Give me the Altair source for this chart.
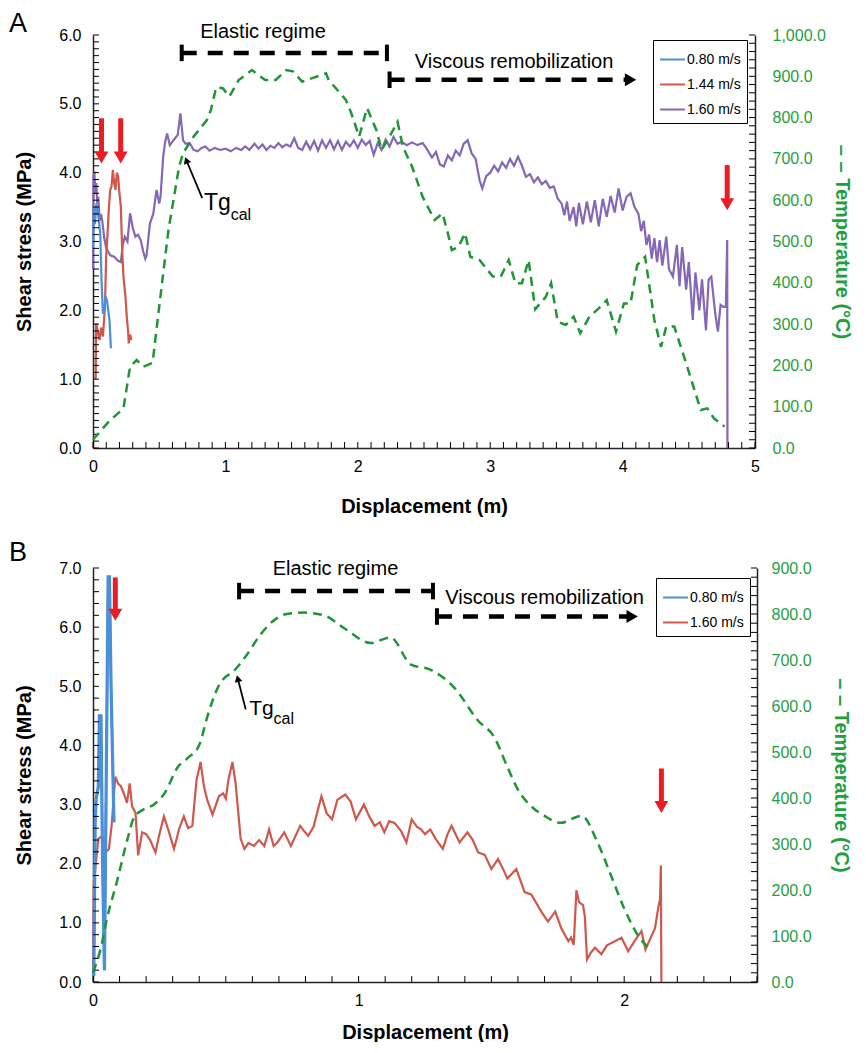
import altair as alt
import numpy as np
import pandas as pd

FONT = "Liberation Sans"
GREEN_LINE = "#1e9636"
GREEN_TEXT = "#1fa040"
ARROW_RED = "#ec1c24"

# ---------------- Panel A data ----------------
A_SERIES = ["0.80 m/s", "1.44 m/s", "1.60 m/s"]
A_COLORS = ["#4a8fd8", "#d0574c", "#8467b5"]

A_BLUE_X = [0.000, 0.008, 0.015, 0.025, 0.035, 0.045, 0.055, 0.065, 0.075, 0.085, 0.095, 0.105, 0.115, 0.125, 0.135]
A_BLUE_Y = [2.90, 3.50, 3.25, 3.55, 3.45, 3.30, 3.10, 2.40, 1.95, 2.00, 2.20, 2.15, 2.00, 1.85, 1.45]

A_RED_X = [0.020, 0.024, 0.035, 0.050, 0.060, 0.075, 0.090, 0.100, 0.110, 0.120, 0.130, 0.140, 0.150,
           0.160, 0.170, 0.180, 0.190, 0.200, 0.210, 0.220, 0.230, 0.245, 0.255, 0.265, 0.270, 0.280, 0.290]
A_RED_Y = [1.00, 1.81, 1.70, 1.57, 1.75, 1.62, 2.05, 2.80, 3.12, 3.50, 3.75, 3.80, 4.04,
           3.85, 3.75, 4.00, 3.94, 3.70, 3.51, 2.90, 2.49, 2.20, 1.91, 1.70, 1.52, 1.65, 1.57]

A_PURPLE_X = [0.000, 0.004, 0.010, 0.018, 0.025, 0.032, 0.040, 0.050, 0.060, 0.070, 0.085, 0.100, 0.115, 0.130,
              0.160, 0.190, 0.210, 0.225, 0.240, 0.260, 0.280, 0.300, 0.320, 0.340, 0.360, 0.380, 0.395, 0.405,
              0.430, 0.455, 0.480, 0.500, 0.510, 0.530, 0.545, 0.560, 0.580, 0.600, 0.620, 0.640, 0.660, 0.680,
              0.700, 0.730, 0.760, 0.790,
              0.82, 0.85, 0.88, 0.92, 0.96, 1.00, 1.04, 1.08, 1.12, 1.15, 1.18, 1.22, 1.25, 1.28, 1.31, 1.34,
              1.37, 1.40, 1.43, 1.46, 1.49, 1.52, 1.55, 1.58, 1.61, 1.64, 1.67, 1.70, 1.73, 1.76, 1.79, 1.82,
              1.85, 1.88, 1.91, 1.94, 1.97, 2.00, 2.03, 2.06, 2.09, 2.12, 2.15, 2.18, 2.21, 2.24, 2.27, 2.30,
              2.33, 2.37, 2.41, 2.45, 2.49, 2.52, 2.56, 2.59, 2.62, 2.65, 2.68, 2.71, 2.74, 2.77, 2.80, 2.83,
              2.86, 2.89, 2.92, 2.94, 2.97, 3.00, 3.03, 3.06, 3.09, 3.12, 3.15, 3.18, 3.21, 3.24, 3.27, 3.30,
              3.33, 3.36, 3.39, 3.42, 3.45, 3.48, 3.51, 3.54, 3.56, 3.58, 3.60, 3.63, 3.65, 3.67, 3.70, 3.73,
              3.76, 3.79, 3.82, 3.85, 3.88, 3.91, 3.94, 3.97, 4.00, 4.03, 4.06, 4.09, 4.12, 4.14, 4.16, 4.18,
              4.20, 4.22, 4.24, 4.26, 4.28, 4.30, 4.33, 4.35, 4.38, 4.41, 4.43, 4.45, 4.48, 4.50, 4.53, 4.55,
              4.58, 4.60, 4.63, 4.65, 4.67, 4.70, 4.72, 4.74, 4.76, 4.78, 4.790, 4.792]
A_PURPLE_Y = [2.60, 3.95, 4.02, 3.70, 3.85, 3.55, 3.65, 3.30, 3.40, 3.30, 3.05, 2.90, 2.85, 2.80,
              2.78, 2.72, 2.70, 2.95, 3.07, 3.00, 3.41, 3.20, 3.07, 3.10, 3.02, 2.85, 2.75, 2.80,
              3.26, 3.40, 3.75, 3.55, 3.65, 4.23, 4.45, 4.57, 4.40, 4.45, 4.50, 4.55, 4.86, 4.47,
              4.42, 4.43, 4.33, 4.31,
              4.36, 4.38, 4.32, 4.36, 4.33, 4.35, 4.31, 4.36, 4.33, 4.38, 4.33, 4.42, 4.35, 4.41, 4.33, 4.39,
              4.36, 4.43, 4.37, 4.41, 4.38, 4.50, 4.36, 4.33, 4.45, 4.34, 4.46, 4.32, 4.47, 4.36, 4.47, 4.34,
              4.46, 4.33, 4.45, 4.38, 4.47, 4.36, 4.48, 4.40, 4.46, 4.26, 4.43, 4.33, 4.48, 4.38, 4.52, 4.42,
              4.45, 4.40, 4.44, 4.40, 4.43, 4.35, 4.22, 4.30, 4.12, 4.09, 4.25, 4.18, 4.32, 4.25, 4.42, 4.47,
              4.28, 4.20, 3.89, 3.77, 3.95, 4.00, 4.10, 4.02, 4.15, 4.07, 4.20, 4.10, 4.23, 4.10, 3.94, 3.98,
              3.86, 3.93, 3.83, 3.88, 3.78, 3.80, 3.62, 3.55, 3.38, 3.58, 3.30, 3.50, 3.22, 3.56, 3.25, 3.58,
              3.28, 3.60, 3.22, 3.62, 3.36, 3.66, 3.42, 3.77, 3.45, 3.65, 3.70, 3.50, 3.40, 3.15, 3.30, 2.95,
              3.10, 2.75, 3.05, 2.70, 3.02, 2.65, 3.07, 2.60, 2.49, 2.95, 2.35, 2.92, 2.30, 2.70, 1.86, 2.55,
              2.00, 2.45, 1.71, 2.45, 2.49, 1.95, 1.69, 2.08, 2.05, 2.05, 3.02, 0.00]

A_TEMP_X = [0.00, 0.12, 0.23, 0.28, 0.33, 0.38, 0.45, 0.50, 0.57, 0.65, 0.68, 0.76, 0.86, 0.89, 0.93, 0.98,
            1.03, 1.10, 1.20, 1.30, 1.38, 1.46, 1.51, 1.58, 1.65, 1.76, 1.78, 1.91, 1.95, 2.01, 2.07, 2.14,
            2.18, 2.24, 2.30, 2.34, 2.41, 2.49, 2.58, 2.64, 2.68, 2.71, 2.76, 2.81, 2.85, 2.92, 3.02, 3.08,
            3.14, 3.19, 3.24, 3.29, 3.34, 3.42, 3.46, 3.51, 3.57, 3.63, 3.68, 3.75, 3.82, 3.88, 3.95, 4.01,
            4.06, 4.11, 4.17, 4.24, 4.29, 4.33, 4.39, 4.48, 4.59, 4.64, 4.69, 4.77]
A_TEMP_Y = [20, 64, 96, 197, 213, 197, 206, 342, 528, 681, 714, 754, 794, 818, 873, 871,
            851, 891, 915, 891, 891, 915, 912, 887, 895, 907, 891, 843, 811, 754, 823, 770,
            722, 754, 790, 730, 681, 608, 552, 568, 520, 479, 487, 520, 463, 455, 415, 415,
            455, 399, 399, 455, 336, 366, 399, 306, 298, 318, 278, 318, 338, 358, 282, 350,
            350, 443, 463, 310, 245, 294, 294, 205, 92, 96, 72, 52]

# ---------------- Panel B data ----------------
B_SERIES = ["0.80 m/s", "1.60 m/s"]
B_COLORS = ["#4a8fd8", "#d0574c"]

B_BLUE_X = [0.003, 0.008, 0.012, 0.020, 0.024, 0.030, 0.036, 0.043, 0.050, 0.057, 0.062, 0.068, 0.075, 0.079]
B_BLUE_Y = [0.10, 2.70, 3.10, 3.30, 4.50, 4.50, 2.00, 0.20, 3.50, 6.85, 6.85, 5.00, 3.50, 2.70]

B_RED_X = [0.000, 0.003, 0.010, 0.020, 0.034, 0.046, 0.060, 0.070, 0.084, 0.095, 0.105, 0.115, 0.128, 0.138,
           0.147, 0.160, 0.170, 0.185, 0.200, 0.215, 0.235, 0.250, 0.267, 0.285, 0.305, 0.325, 0.342, 0.358,
           0.374, 0.390, 0.405, 0.418, 0.430, 0.450, 0.474, 0.490, 0.500, 0.510, 0.525, 0.537, 0.556, 0.570,
           0.585, 0.606, 0.625, 0.645, 0.663, 0.680, 0.694, 0.720, 0.745, 0.780, 0.795, 0.810, 0.830, 0.860,
           0.880, 0.900, 0.920, 0.950, 0.970, 0.990, 1.020, 1.040, 1.060, 1.080, 1.097, 1.115, 1.135, 1.160,
           1.180, 1.200, 1.220, 1.235, 1.250, 1.270, 1.290, 1.317, 1.335, 1.350, 1.380, 1.410, 1.430, 1.450,
           1.475, 1.500, 1.525, 1.545, 1.560, 1.594, 1.625, 1.650, 1.688, 1.713, 1.740, 1.763, 1.790, 1.800,
           1.810, 1.820, 1.830, 1.845, 1.852, 1.860, 1.875, 1.890, 1.914, 1.935, 1.965, 1.990, 2.015, 2.040,
           2.065, 2.080, 2.100, 2.116, 2.128, 2.135, 2.138, 2.140]
B_RED_Y = [0.10, 1.69, 1.97, 2.42, 2.47, 2.19, 2.25, 2.64, 3.47, 3.35, 3.31, 3.20, 3.03, 3.36,
           2.97, 2.86, 2.14, 2.53, 2.50, 2.40, 2.19, 2.50, 2.80, 2.55, 2.25, 2.60, 2.80, 2.60,
           2.64, 3.42, 3.72, 3.30, 3.08, 2.83, 3.14, 3.19, 3.10, 3.42, 3.72, 3.36, 2.42, 2.25,
           2.35, 2.30, 2.40, 2.30, 2.58, 2.30, 2.36, 2.53, 2.30, 2.64, 2.55, 2.47, 2.62, 3.14,
           2.85, 2.75, 3.08, 3.17, 3.05, 2.75, 3.00, 2.80, 2.64, 2.70, 2.53, 2.72, 2.69, 2.55,
           2.36, 2.75, 2.62, 2.58, 2.50, 2.58, 2.42, 2.25, 2.50, 2.64, 2.36, 2.53, 2.40, 2.19,
           2.15, 1.91, 2.08, 1.90, 1.75, 1.91, 1.52, 1.48, 1.19, 1.02, 1.19, 0.91, 0.69, 0.75,
           0.63, 1.55, 1.35, 1.30, 1.10, 0.38, 0.50, 0.58, 0.47, 0.62, 0.69, 0.75, 0.52, 0.70,
           0.86, 0.55, 0.75, 0.91, 1.25, 1.40, 1.97, 0.00]

B_TEMP_X = [0.000, 0.030, 0.053, 0.090, 0.130, 0.154, 0.190, 0.230, 0.270, 0.320, 0.355, 0.400, 0.430, 0.470,
            0.490, 0.530, 0.580, 0.630, 0.690, 0.720, 0.795, 0.870, 0.946, 1.046, 1.120, 1.197, 1.270, 1.360,
            1.450, 1.510, 1.560, 1.600, 1.650, 1.700, 1.760, 1.840, 1.900, 1.950, 2.000, 2.050, 2.090]
B_TEMP_Y = [21, 75, 139, 218, 311, 357, 375, 386, 411, 468, 486, 515, 576, 640,
            658, 676, 712, 755, 790, 799, 803, 797, 769, 737, 749, 690, 679, 640,
            568, 533, 468, 418, 382, 361, 346, 361, 303, 232, 160, 103, 75]


def series_frame(xs_list, ys_list, names):
    rows = []
    for name, xs_, ys_ in zip(names, xs_list, ys_list):
        for i, (a, b) in enumerate(zip(xs_, ys_)):
            rows.append({"x": a, "y": b, "s": name, "i": i})
    return pd.DataFrame(rows)


def build_panel(W, H, xmax, ymax, tmax, ytick_step, xlabels, sdf, names, colors, bold_series,
                tx, ty, interp, legend_pos, ann, letter, pix_y, right_lp, right_tp, x_tp):
    xs = alt.Scale(domain=[0, xmax], nice=False, zero=False)
    ys = alt.Scale(domain=[0, ymax], nice=False, zero=False)
    ts = alt.Scale(domain=[0, tmax], nice=False, zero=False)

    xaxis = alt.Axis(values=xlabels, format="d", title="Displacement (m)", ticks=False, grid=False,
                     domainColor="#222222", domainWidth=1.5, labelFontSize=16, labelColor="black",
                     labelPadding=10, titleFontSize=20, titleFontWeight="bold", titleColor="black",
                     titlePadding=x_tp, labelFlush=False)
    yaxis = alt.Axis(values=[float(v) for v in range(0, int(ymax) + 1)], format=".1f",
                     title="Shear stress (MPa)", ticks=False, grid=False, domainColor="#222222",
                     domainWidth=1.5, labelFontSize=16, labelColor="black", labelPadding=12,
                     titleFontSize=20, titleFontWeight="bold", titleColor="black", titlePadding=24,
                     orient="left")
    taxis = alt.Axis(values=list(range(0, tmax + 1, 100)), format=",.1f",
                     title="– – Temperature (°C)", ticks=False, grid=False, domainColor="#222222",
                     domainWidth=1.5, labelFontSize=16, labelColor=GREEN_TEXT, labelPadding=right_lp,
                     titleFontSize=20, titleFontWeight="bold", titleColor=GREEN_TEXT,
                     titlePadding=right_tp, orient="right")

    X = alt.X("x:Q", scale=xs, axis=xaxis)
    Y = alt.Y("y:Q", scale=ys, axis=yaxis)
    T = alt.Y("t:Q", scale=ts, axis=taxis)

    lines = alt.Chart(sdf).mark_line(strokeWidth=2.2).encode(
        x=X, y=Y,
        color=alt.Color("s:N", scale=alt.Scale(domain=names, range=colors),
                        legend=alt.Legend(orient="none", legendX=legend_pos[0], legendY=legend_pos[1],
                                          title=None, strokeColor="black", fillColor="white",
                                          padding=6, symbolType="stroke", symbolSize=620,
                                          symbolStrokeWidth=2, labelFontSize=14, labelFont=FONT,
                                          labelColor="black", labelOffset=1, rowPadding=4)),
        order="i:Q",
    )
    layers = [lines]
    if bold_series is not None:
        bdf = sdf[sdf["s"] == bold_series[0]]
        layers.append(alt.Chart(bdf).mark_line(strokeWidth=3.2, color=bold_series[1]).encode(
            x=X, y=Y, order="i:Q"))

    # inward ticks
    lt = alt.Chart(pd.DataFrame({"y": np.round(np.arange(0, ymax + 1e-6, ytick_step), 3)})).mark_rule(
        color="black", strokeWidth=1).encode(x=alt.value(0), x2=alt.value(6), y=Y)
    bt = alt.Chart(pd.DataFrame({"x": np.round(np.arange(0, xmax + 1e-6, 0.1), 3)})).mark_rule(
        color="black", strokeWidth=1).encode(x=X, y=alt.value(H - 6), y2=alt.value(H))

    # regime annotations
    e = ann["elastic"]
    v = ann["viscous"]
    hb = ann["bar_half"]
    reg = pd.DataFrame([
        {"x": e[0], "x2": e[1], "y": e[2]},
        {"x": v[0], "x2": v[1], "y": v[2]},
    ])
    reg_lines = alt.Chart(reg).mark_rule(color="black", strokeWidth=4.5, strokeDash=[15, 11]).encode(
        x=X, x2=alt.X2("x2"), y=Y)
    bars = pd.DataFrame([
        {"x": e[0], "y": e[2] - hb, "y2": e[2] + hb},
        {"x": e[1], "y": e[2] - hb, "y2": e[2] + hb},
        {"x": v[0], "y": v[2] - hb, "y2": v[2] + hb},
    ])
    bar_marks = alt.Chart(bars).mark_rule(color="black", strokeWidth=4).encode(x=X, y=Y, y2=alt.Y2("y2"))
    head = alt.Chart(pd.DataFrame([{"x": v[1], "y": v[2]}])).mark_point(
        shape="triangle-right", filled=True, size=170, color="black", opacity=1).encode(x=X, y=Y)
    texts = pd.DataFrame([
        {"x": ann["elastic_text"][0], "y": ann["elastic_text"][1], "label": "Elastic regime"},
        {"x": ann["viscous_text"][0], "y": ann["viscous_text"][1], "label": "Viscous remobilization"},
    ])
    text_marks = alt.Chart(texts).mark_text(fontSize=20, font=FONT, color="black").encode(
        x=X, y=Y, text="label:N")

    # red arrows
    ra = pd.DataFrame([{"x": a[0], "y": a[1], "y2": a[2], "yt": a[3]} for a in ann["red"]])
    red_shaft = alt.Chart(ra).mark_rule(color=ARROW_RED, strokeWidth=5).encode(x=X, y=Y, y2=alt.Y2("y2"))
    red_head = alt.Chart(ra).mark_point(shape="triangle-down", filled=True, size=190, color=ARROW_RED,
                                        opacity=1).encode(x=X, y=alt.Y("yt:Q", scale=ys, axis=yaxis))

    # Tg annotation
    g = ann["tg"]
    tg_line = alt.Chart(pd.DataFrame([{"x": g["tail"][0], "y": g["tail"][1],
                                       "x2": g["tip"][0], "y2": g["tip"][1]}])).mark_rule(
        color="black", strokeWidth=1.8).encode(x=X, y=Y, x2=alt.X2("x2"), y2=alt.Y2("y2"))
    tg_head = alt.Chart(pd.DataFrame([{"x": g["tip"][0], "y": g["tip"][1]}])).mark_point(
        shape="triangle-up", filled=True, size=60, color="black", opacity=1, angle=g["angle"]).encode(x=X, y=Y)
    tg_t = alt.Chart(pd.DataFrame([{"x": g["tg"][0], "y": g["tg"][1], "label": "Tg"}])).mark_text(
        fontSize=g["fs"][0], font=FONT, color="black", align="left").encode(x=X, y=Y, text="label:N")
    tg_c = alt.Chart(pd.DataFrame([{"x": g["cal"][0], "y": g["cal"][1], "label": "cal"}])).mark_text(
        fontSize=g["fs"][1], font=FONT, color="black", align="left").encode(x=X, y=Y, text="label:N")

    letter_mark = alt.Chart(pd.DataFrame([{"label": letter}])).mark_text(
        fontSize=27, font=FONT, color="black", align="left", baseline="middle").encode(
        x=alt.value(-84), y=alt.value(pix_y), text="label:N")

    left = alt.layer(*layers, lt, bt, reg_lines, bar_marks, head, text_marks, red_shaft, red_head,
                     tg_line, tg_head, tg_t, tg_c, letter_mark)

    tdf = pd.DataFrame({"x": tx, "t": ty, "i": list(range(len(tx)))})
    temp_line = alt.Chart(tdf).mark_line(color=GREEN_LINE, strokeWidth=2.5, strokeDash=[9, 6],
                                         interpolate=interp).encode(x=X, y=T, order="i:Q")
    rt = alt.Chart(pd.DataFrame({"t": list(range(0, tmax + 1, 20))})).mark_rule(
        color="black", strokeWidth=1).encode(x=alt.value(W - 6), x2=alt.value(W), y=T)
    right = alt.layer(temp_line, rt)

    return alt.layer(left, right).resolve_scale(y="independent").resolve_axis(y="independent").properties(
        width=W, height=H)


sA = series_frame([A_PURPLE_X, A_RED_X, A_BLUE_X], [A_PURPLE_Y, A_RED_Y, A_BLUE_Y],
                  ["1.60 m/s", "1.44 m/s", "0.80 m/s"])
sB = series_frame([B_RED_X, B_BLUE_X], [B_RED_Y, B_BLUE_Y], ["1.60 m/s", "0.80 m/s"])

annA = {
    "elastic": (0.67, 2.22, 5.74),
    "viscous": (2.24, 4.06, 5.35),
    "bar_half": 0.12,
    "elastic_text": (1.284, 6.04),
    "viscous_text": (3.18, 5.61),
    "red": [(0.064, 4.79, 4.30, 4.22), (0.209, 4.79, 4.30, 4.22), (4.79, 4.11, 3.62, 3.54)],
    "tg": {"tail": (0.825, 3.63), "tip": (0.705, 4.18), "angle": 339, "tg": (0.838, 3.56),
           "cal": (1.04, 3.39), "fs": (23, 16)},
}
annB = {
    "elastic": (0.55, 1.28, 6.61),
    "viscous": (1.295, 2.03, 6.18),
    "bar_half": 0.14,
    "elastic_text": (0.913, 6.98),
    "viscous_text": (1.70, 6.49),
    "red": [(0.084, 6.84, 6.30, 6.21), (2.14, 3.61, 3.05, 2.96)],
    "tg": {"tail": (0.575, 4.61), "tip": (0.545, 5.13), "angle": 346, "tg": (0.588, 4.62),
           "cal": (0.68, 4.44), "fs": (21, 16)},
}

panelA = build_panel(662, 413, 5, 6, 1000, 0.1, [0, 1, 2, 3, 4, 5], sA, A_SERIES, A_COLORS, None,
                     A_TEMP_X, A_TEMP_Y, "linear", (560, 5), annA, "A", -11, 17, 6, 22)
panelB = build_panel(664, 414, 2.5, 7, 900, 0.2, [0, 1, 2], sB, B_SERIES, B_COLORS,
                     ("0.80 m/s", B_COLORS[0]),
                     B_TEMP_X, B_TEMP_Y, "monotone", (563, 10), annB, "B", -15, 14, 19, 14)

chart = alt.vconcat(panelA, panelB, spacing=23).resolve_scale(
    color="independent", x="independent", y="independent").resolve_legend(
    color="independent").properties(
    padding={"left": 1, "top": 2, "right": 5, "bottom": 0}
).configure(font=FONT).configure_view(stroke=None)

chart.save("out.html", embed_options={"renderer": "svg", "actions": False})
